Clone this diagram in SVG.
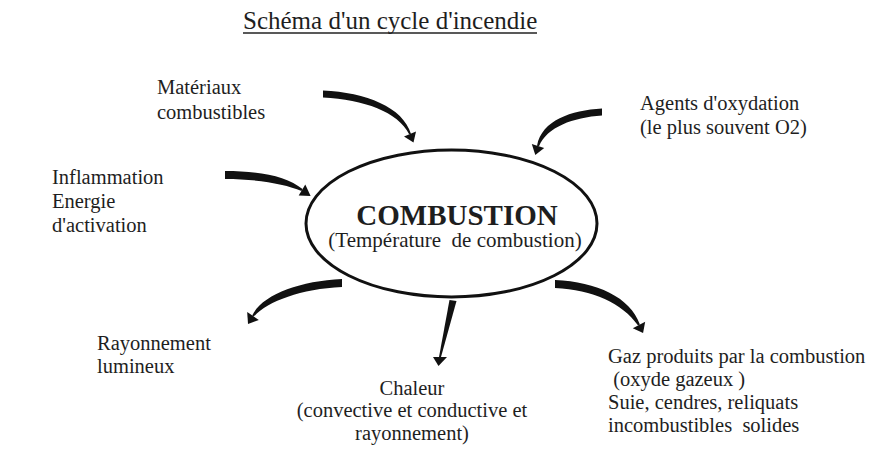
<svg xmlns="http://www.w3.org/2000/svg" width="871" height="461" viewBox="0 0 871 461">
<style>
text{font-family:"Liberation Serif","Times New Roman",serif;fill:#1e1e1e;}
.lbl{font-size:20.5px;}
.title{font-size:25px;}
.big{font-size:29px;font-weight:bold;}
.sub{font-size:21px;}
.arr{fill:#111;stroke:none;}
.node{fill:none;stroke:#111;stroke-width:3;}
</style>
<rect width="871" height="461" fill="#ffffff"/>
<g id="title">
<text class="title" x="243" y="29">Schéma d'un cycle d'incendie</text>
<line x1="243" y1="33" x2="537" y2="33" stroke="#222" stroke-width="1.5"/>
</g>
<g id="combustion">
<ellipse class="node" cx="451.5" cy="223.5" rx="145.5" ry="73.5"/>
<text class="big" x="457" y="225" text-anchor="middle">COMBUSTION</text>
<text class="sub" x="455" y="247" text-anchor="middle" xml:space="preserve">(Température  de combustion)</text>
</g>
<g id="materiaux">
<text class="lbl" x="157" y="94">Matériaux</text>
<text class="lbl" x="157" y="119">combustibles</text>
</g>
<g id="agents">
<text class="lbl" x="640" y="110">Agents d'oxydation</text>
<text class="lbl" x="640" y="134">(le plus souvent O2)</text>
</g>
<g id="inflammation">
<text class="lbl" x="52" y="184">Inflammation</text>
<text class="lbl" x="52" y="208">Energie</text>
<text class="lbl" x="52" y="232">d'activation</text>
</g>
<g id="rayonnement">
<text class="lbl" x="97" y="350">Rayonnement</text>
<text class="lbl" x="97" y="373">lumineux</text>
</g>
<g id="chaleur">
<text class="lbl" x="412" y="395" text-anchor="middle">Chaleur</text>
<text class="lbl" x="412" y="417" text-anchor="middle">(convective et conductive et</text>
<text class="lbl" x="412" y="440" text-anchor="middle">rayonnement)</text>
</g>
<g id="gaz">
<text class="lbl" x="608" y="363">Gaz produits par la combustion</text>
<text class="lbl" x="608" y="386" xml:space="preserve"> (oxyde gazeux )</text>
<text class="lbl" x="608" y="409">Suie, cendres, reliquats</text>
<text class="lbl" x="608" y="432" xml:space="preserve">incombustibles  solides</text>
</g>
<g id="connectors">
<path class="arr" d="M323,90.5 C366,92.5 403,107 411,134 L409,134 C398,112 364,99.5 323,97.5 Z"/>
<polygon class="arr" points="416,131.5 404,136.5 413.5,142.5"/>
<path class="arr" d="M602,108.5 C571,110.5 542,120 537,145.7 L539,146.3 C547,127 573,117.5 602,115.5 Z"/>
<polygon class="arr" points="544.2,148 531.8,144 535.3,155"/>
<path class="arr" d="M225,171 C259,171 287,176 302.5,189.1 L301.5,190.9 C285,184 257,179 225,179 Z"/>
<polygon class="arr" points="305.3,184.4 298.7,195.6 310.6,196"/>
<path class="arr" d="M342,279 C299,281 262,295 252.2,315.4 L253.8,316.6 C268,301 301,289 342,287 Z"/>
<polygon class="arr" points="258.8,319.9 247.2,312.1 248,324"/>
<polygon class="arr" points="456.5,301 449.5,300 439,357 441,357"/>
<polygon class="arr" points="433,357 447,357 438.5,366"/>
<path class="arr" d="M555,280 C597,282 630,297 639.9,324.5 L638.1,325.5 C622,303 593,290 555,288 Z"/>
<polygon class="arr" points="645.2,321.8 632.8,328.2 643.1,333"/>
</g>
</svg>
